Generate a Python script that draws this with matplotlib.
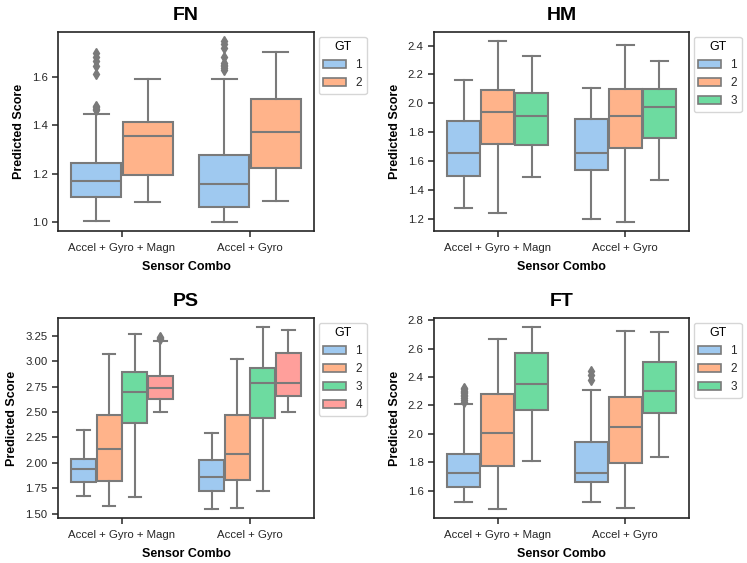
import numpy as np
import matplotlib
matplotlib.use("Agg")
import matplotlib.pyplot as plt
from matplotlib.patches import Patch
from matplotlib.ticker import MultipleLocator

plt.rcParams['font.family'] = ['Liberation Sans', 'DejaVu Sans']

# x categories
combos = ['Accel + Gyro + Magn', 'Accel + Gyro']
hue_colors = ['#9fc9f0', '#ffb38a', '#6ddba0', '#ff9f9b']
edge = '#7a7a7a'

# box stats per panel: [combo][GT] -> (whislo, q1, med, q3, whishi)
FN_stats = [
    [(1.005, 1.102, 1.170, 1.245, 1.449), (1.082, 1.194, 1.357, 1.412, 1.593)],
    [(1.000, 1.061, 1.158, 1.278, 1.592), (1.087, 1.225, 1.374, 1.507, 1.705)],
]
FN_fliers = [
    [[1.462, 1.468, 1.474, 1.480, 1.611, 1.645, 1.667, 1.685, 1.701], []],
    [[1.630, 1.638, 1.644, 1.650, 1.657, 1.685, 1.719, 1.735, 1.749], []],
]

HM_stats = [
    [(1.276, 1.494, 1.652, 1.879, 2.161), (1.239, 1.717, 1.939, 2.092, 2.432),
     (1.490, 1.710, 1.914, 2.069, 2.326)],
    [(1.195, 1.534, 1.654, 1.888, 2.106), (1.177, 1.689, 1.911, 2.099, 2.407),
     (1.471, 1.756, 1.976, 2.099, 2.293)],
]
HM_fliers = [[[], [], []], [[], [], []]]

PS_stats = [
    [(1.671, 1.809, 1.934, 2.039, 2.322), (1.579, 1.822, 2.135, 2.467, 3.072),
     (1.664, 2.388, 2.694, 2.898, 3.266), (2.500, 2.628, 2.734, 2.859, 3.201)],
    [(1.546, 1.724, 1.862, 2.026, 2.296), (1.559, 1.829, 2.086, 2.474, 3.026),
     (1.720, 2.444, 2.783, 2.938, 3.336), (2.500, 2.655, 2.786, 3.079, 3.309)],
]
PS_fliers = [[[], [], [], [3.215, 3.228, 3.240]], [[], [], [], []]]

FT_stats = [
    [(1.520, 1.623, 1.724, 1.858, 2.210), (1.471, 1.771, 2.004, 2.281, 2.670),
     (1.811, 2.168, 2.349, 2.572, 2.752)],
    [(1.520, 1.659, 1.727, 1.943, 2.309), (1.480, 1.792, 2.051, 2.257, 2.724),
     (1.835, 2.147, 2.302, 2.504, 2.717)],
]
FT_fliers = [
    [[2.225, 2.240, 2.255, 2.265, 2.275, 2.285, 2.295, 2.305, 2.315, 2.323], [], []],
    [[2.381, 2.417, 2.445], [], []],
]

panels = [
    ('FN', FN_stats, FN_fliers, 0.2),
    ('HM', HM_stats, HM_fliers, 0.2),
    ('PS', PS_stats, PS_fliers, 0.25),
    ('FT', FT_stats, FT_fliers, 0.2),
]

fig = plt.figure(figsize=(7.47, 5.63), dpi=100)
W, H = 747, 563
rects = [(58, 32, 314, 231), (434, 32, 689, 231),
         (58, 318, 314, 518), (434, 318, 689, 518)]


def draw_panel(ax, title, stats, fliers, ystep):
    n = len(stats[0])
    w = 0.8 / n
    for i in range(len(combos)):
        for k in range(n):
            lo, q1, med, q3, hi = stats[i][k]
            st = [dict(whislo=lo, q1=q1, med=med, q3=q3, whishi=hi,
                       fliers=fliers[i][k])]
            pos = i - 0.4 + w / 2 + k * w
            ax.bxp(st, positions=[pos], widths=[w * 0.98], patch_artist=True,
                   manage_ticks=False,
                   boxprops=dict(facecolor=hue_colors[k], edgecolor=edge, linewidth=1.5),
                   medianprops=dict(color=edge, linewidth=1.5),
                   whiskerprops=dict(color=edge, linewidth=1.5),
                   capprops=dict(color=edge, linewidth=1.5),
                   flierprops=dict(marker='d', markerfacecolor=edge,
                                   markeredgecolor=edge, markersize=5))
    ax.set_xlim(-0.5, len(combos) - 0.5)
    ax.set_xticks(range(len(combos)))
    ax.set_xticklabels(combos)
    ax.yaxis.set_major_locator(MultipleLocator(ystep))
    ax.set_title(title, fontsize=14, fontweight='bold', pad=9)
    ax.set_xlabel('Sensor Combo', fontsize=9, fontweight='bold', labelpad=6)
    ax.set_ylabel('Predicted Score', fontsize=9, fontweight='bold', labelpad=5)
    ax.tick_params(labelsize=8.2, length=4, width=1.1, colors='#262626')
    ax.tick_params(axis='x', pad=4.5)
    for s in ax.spines.values():
        s.set_linewidth(1.2)
        s.set_color('#262626')
    handles = [Patch(facecolor=hue_colors[k], edgecolor=edge, linewidth=1.2)
               for k in range(n)]
    leg = ax.legend(handles, [str(k + 1) for k in range(n)], title='GT',
                    loc='upper left', bbox_to_anchor=(1.0, 1.0), borderaxespad=0.4,
                    fontsize=8.5, title_fontsize=9, handlelength=1.9,
                    handletextpad=0.8, borderpad=0.4, frameon=True)
    for t in leg.get_texts():
        t.set_color('#262626')


for (title, stats, fl, ystep), (x0, y0, x1, y1) in zip(panels, rects):
    ax = fig.add_axes([x0 / W, (H - y1) / H, (x1 - x0) / W, (y1 - y0) / H])
    draw_panel(ax, title, stats, fl, ystep)

fig.savefig('out.png', dpi=100)
